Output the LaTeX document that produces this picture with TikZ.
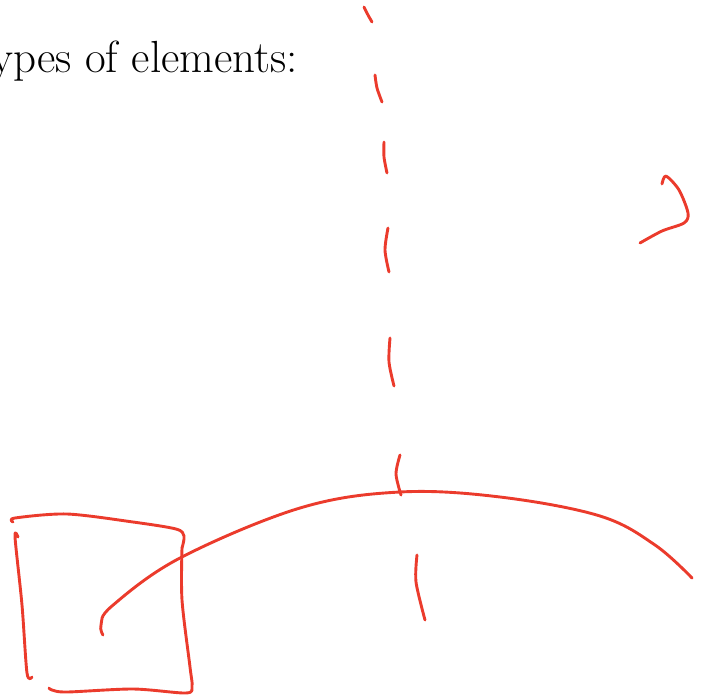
\documentclass[tikz,border=0pt]{standalone}
\usepackage{tikz}
\usetikzlibrary{calc}
\definecolor{colInk}{HTML}{EB3B2C}
\tikzset{
  ink/.style={draw=colInk, line width=2.9pt, line cap=round, line join=round},
  title/.style={font=\fontsize{45}{54}\selectfont, inner sep=0pt, anchor=base east}
}
\begin{document}
\begin{tikzpicture}[x=1pt, y=-1pt]
  \useasboundingbox (0,0) rectangle (707,696);
  \clip (0,0) rectangle (707,696);
  % heading, cut at the left edge
  \node[title] (head) at (298,72) {Types of elements:};
  % dashed guide line, drawn as loose strokes
  \draw[ink] plot[smooth] coordinates {(364,7) (368,15) (372,22)};
  \draw[ink] plot[smooth] coordinates {(375,75) (377,88) (382,102)};
  \draw[ink] plot[smooth] coordinates {(384,142) (384,157) (387,173)};
  \draw[ink] plot[smooth] coordinates {(388,228) (385,250) (389,272)};
  \draw[ink] plot[smooth] coordinates {(390,338) (389,362) (394,386)};
  \draw[ink] plot[smooth] coordinates {(400,455) (396,474) (401,495)};
  \draw[ink] plot[smooth] coordinates {(417,555) (416,582) (425,620)};
  % hook at the right
  \draw[ink] plot[smooth, tension=0.5] coordinates {(662,184) (666,176) (679,190) (688,213) (684,223) (662,231) (640,243)};
  % long arc
  \draw[ink] plot[smooth, tension=0.6] coordinates {(103,635) (101,625) (112,606) (180,558) (300,508) (400,492) (500,497) (600,516) (655,545) (692,578)};
  % rough square
  \draw[ink] plot[smooth, tension=0.5] coordinates {(13,522) (15,518) (67,514) (133,522) (176,529) (184,536) (182,548)};
  \draw[ink] plot[smooth, tension=0.5] coordinates {(182,548) (182,600) (190,667) (192,686) (186,693) (133,689) (67,692) (52,690) (49,688)};
  \draw[ink] plot[smooth, tension=0.5] coordinates {(18,537) (15,537) (22,605) (27,673) (32,677)};
\end{tikzpicture}
\end{document}
